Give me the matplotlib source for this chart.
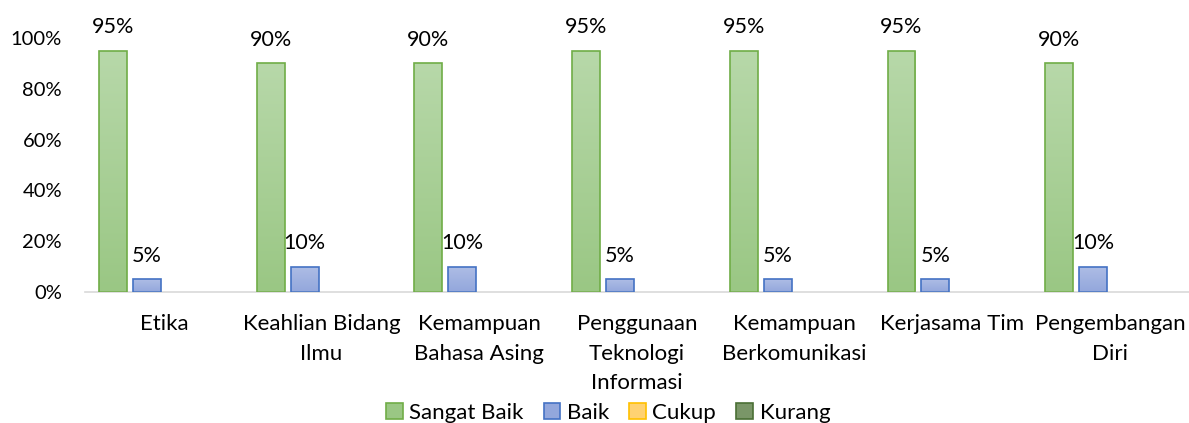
import numpy as np
import matplotlib.pyplot as plt
from matplotlib.patches import Patch
from matplotlib.colors import LinearSegmentedColormap

plt.rcParams["font.family"] = ["Lato", "DejaVu Sans"]

categories = [
    "Etika",
    "Keahlian Bidang\nIlmu",
    "Kemampuan\nBahasa Asing",
    "Penggunaan\nTeknologi\nInformasi",
    "Kemampuan\nBerkomunikasi",
    "Kerjasama Tim",
    "Pengembangan\nDiri",
]
series_names = ["Sangat Baik", "Baik", "Cukup", "Kurang"]
sangat_baik = [0.95, 0.90, 0.90, 0.95, 0.95, 0.95, 0.90]
baik = [0.05, 0.10, 0.10, 0.05, 0.05, 0.05, 0.10]
cukup = [0, 0, 0, 0, 0, 0, 0]
kurang = [0, 0, 0, 0, 0, 0, 0]

# (fill top, fill bottom, edge)
styles = [
    ("#b7d8a9", "#9ac784", "#70ad47"),
    ("#aebde5", "#93a7dc", "#4472c4"),
    ("#ffe0a0", "#ffd272", "#ffc000"),
    ("#93ab84", "#7a9668", "#4a6f35"),
]

fig = plt.figure(figsize=(11.89, 4.23), dpi=100)
ax = fig.add_axes([85 / 1189, 1 - 292 / 423, 1 - 85 / 1189, 254 / 423])

x = np.arange(len(categories))
width = 28 / 158
step = 34 / 158
all_values = [sangat_baik, baik, cukup, kurang]

for k, values in enumerate(all_values):
    top, bottom, edge = styles[k]
    cmap = LinearSegmentedColormap.from_list(f"g{k}", [bottom, top])
    offset = (k - 1.5) * step
    edges = [edge if v > 0 else "none" for v in values]
    bars = ax.bar(x + offset, values, width, facecolor="none", edgecolor=edges,
                  linewidth=1.2, zorder=3)
    for bar, v in zip(bars, values):
        if v <= 0:
            continue
        grad = np.linspace(0, 1, 100).reshape(-1, 1)
        x0 = bar.get_x()
        im = ax.imshow(grad, extent=(x0, x0 + width, 0, v), origin="lower",
                       aspect="auto", cmap=cmap, zorder=2)
        im.set_clip_path(bar)
        ax.annotate(f"{v * 100:.0f}%", (x0 + width / 2, v), xytext=(0, 17),
                    textcoords="offset points", ha="center", va="center",
                    fontsize=15.5, color="#000000", annotation_clip=False)

ax.set_xlim(-0.5, len(categories) - 0.5)
ax.set_ylim(0, 1.0)
ax.set_yticks([0, 0.2, 0.4, 0.6, 0.8, 1.0])
ax.set_yticklabels(["0%", "20%", "40%", "60%", "80%", "100%"], fontsize=14.5)
ax.set_xticks(x)
ax.set_xticklabels(categories, fontsize=16, linespacing=1.6)
ax.tick_params(axis="both", length=0)
ax.tick_params(axis="y", pad=16.5)
ax.tick_params(axis="x", pad=16)

for side in ["top", "right", "left"]:
    ax.spines[side].set_visible(False)
ax.spines["bottom"].set_color("#d9d9d9")
ax.spines["bottom"].set_linewidth(1.2)

handles = [Patch(facecolor=s[1], edgecolor=s[2], linewidth=1.2) for s in styles]
fig.legend(handles, series_names, loc="center", bbox_to_anchor=(608 / 1189, 1 - 413 / 423),
           ncol=4, frameon=False, fontsize=16, handlelength=0.75, handleheight=0.75,
           handletextpad=0.3, columnspacing=0.9, borderaxespad=0)

fig.savefig("out.png", dpi=100)
